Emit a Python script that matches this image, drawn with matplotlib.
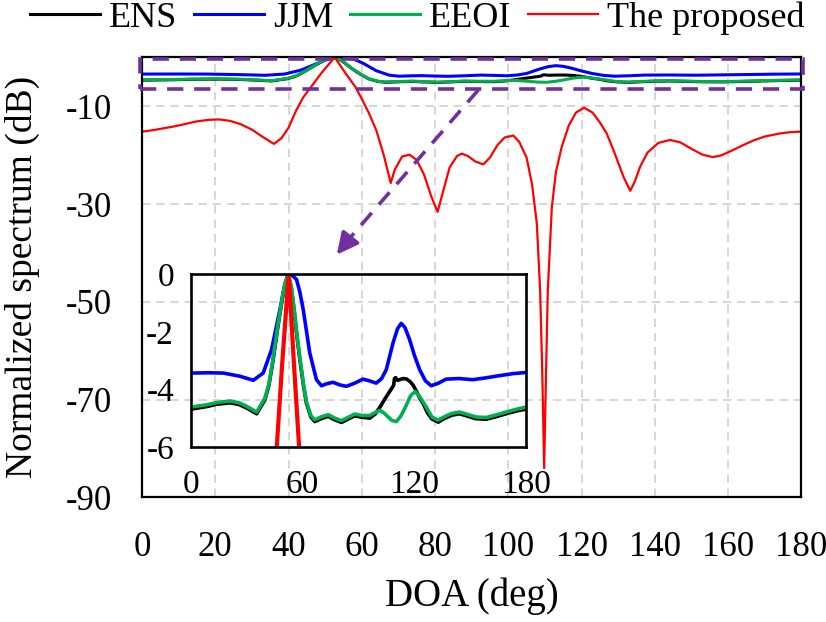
import matplotlib
matplotlib.use("Agg")
import matplotlib.pyplot as plt
from matplotlib.patches import Rectangle

plt.rcParams['font.family'] = ['Liberation Serif', 'DejaVu Serif']
plt.rcParams['axes.unicode_minus'] = False

# ---- data (DOA in deg, spectrum in dB) ----
red_x = [0, 3, 6, 9, 12, 15, 18, 21, 24, 27, 30, 33, 36, 38, 40, 42, 44, 46.2, 49, 52.6,
         55.5, 58.2, 60, 62, 64, 66, 67.9, 69, 71, 73, 75, 77, 79, 80.7, 82, 84, 86, 87.3, 89, 91,
         93.2, 95, 97, 99, 101.4, 103, 105, 106.5, 107.8, 108.7, 109.3, 109.8, 110.3, 110.8, 111.9,
         113, 114.6, 116.5, 118.5, 120.7, 123, 125, 126.9, 129, 131.5, 133.3, 134.5, 136, 138, 141,
         144.2, 147, 150, 153, 155.8, 158, 161, 164, 167, 170, 174, 177, 180]
red_y = [-15.2, -14.9, -14.5, -14.1, -13.6, -13.1, -12.8, -12.7, -13.0, -13.7, -14.8, -16.3, -17.7,
         -16.6, -14.4, -11.0, -8.2, -6.0, -3.2, 0, -3.2, -6.0, -8.5, -11.5, -15.0, -20.0, -25.7,
         -23.0, -20.3, -19.9, -21.0, -24.0, -28.5, -31.6, -28.0, -22.5, -20.2, -19.7, -20.2, -21.3,
         -21.9, -20.5, -18.0, -16.4, -16.0, -17.3, -20.5, -26.0, -34.0, -47.6, -65.0, -84.0, -65.0,
         -47.6, -30.6, -23.5, -18.3, -14.0, -11.3, -10.3, -11.3, -13.3, -15.6, -19.5, -24.5, -27.3,
         -25.5, -22.4, -19.5, -17.5, -16.9, -17.4, -18.7, -19.9, -20.4, -20.1, -19.1, -18.0, -17.0,
         -16.2, -15.6, -15.3, -15.2]

jjm_x = [0, 10, 17.5, 26.4, 33.6, 38.9, 43.4, 47.9, 50, 52, 53.5, 55, 56.8, 58.5, 60.4, 63.9,
         67.5, 70.2, 73, 76.4, 80, 83.6, 88, 92.5, 96, 99.6, 102.5, 105, 108.6, 111, 113, 115,
         117.5, 120, 122.9, 126, 129.1, 133, 137.1, 144, 151.4, 158, 165.7, 173, 180]
jjm_y = [-3.43, -3.42, -3.43, -3.54, -3.68, -3.43, -2.62, -1.23, -0.55, -0.08, 0, -0.08, -0.19,
         -0.6, -1.23, -2.73, -3.66, -3.87, -3.80, -3.75, -3.84, -3.89, -3.78, -3.64, -3.70, -3.78,
         -3.62, -3.31, -2.39, -1.9, -1.71, -1.85, -2.27, -2.8, -3.31, -3.7, -3.87, -3.78, -3.64,
         -3.62, -3.66, -3.6, -3.52, -3.45, -3.41]

ens_x = [0, 4, 8.6, 14, 21.1, 26, 30, 35.4, 39.8, 42, 44.3, 46.5, 48.8, 50.5, 52.3, 54, 55.5,
         57, 58.6, 60.5, 62.1, 64.5, 66.6, 70, 73.8, 77, 80.9, 84, 88, 92, 96.1, 99, 101.6, 104,
         106.5, 108.9, 109.4, 110, 111, 112.5, 114.1, 116, 118, 119.5, 121.5, 123, 124.9, 127,
         129.5, 132.9, 136, 140, 144.3, 149, 153, 158.6, 164, 169.3, 175, 180]
ens_y = [-4.68, -4.64, -4.59, -4.51, -4.46, -4.52, -4.64, -4.84, -4.36, -3.85, -2.95, -1.95,
         -1.0, -0.38, 0, -0.48, -1.25, -2.15, -2.97, -3.85, -4.47, -4.95, -5.11, -5.01, -4.93,
         -5.04, -5.14, -5.04, -4.91, -4.96, -4.99, -4.85, -4.61, -4.35, -4.1, -3.86, -3.62, -3.59,
         -3.68, -3.65, -3.62, -3.64, -3.74, -3.86, -4.1, -4.3, -4.5, -4.8, -5.02, -5.13, -5.01,
         -4.89, -4.84, -4.93, -5.01, -5.03, -4.94, -4.84, -4.74, -4.68]

eeoi_x = [0, 4, 8.6, 14, 21.1, 26, 30, 35.4, 39.8, 42, 44.3, 46.5, 48.8, 50.5, 52.3, 54, 55.5,
          57, 58.6, 60.5, 62.1, 64.5, 66.6, 70, 73.8, 77, 80.9, 84, 88, 92, 96.1, 99, 101.4,
          103.5, 106, 108, 110.4, 113, 115.7, 118, 120.5, 123, 126.4, 129.5, 132.7, 136, 140,
          144.3, 149, 153, 158.6, 164, 169.3, 175, 180]
eeoi_y = [-4.61, -4.57, -4.53, -4.45, -4.40, -4.46, -4.58, -4.78, -4.3, -3.8, -2.9, -1.9, -0.95,
          -0.35, 0, -0.45, -1.2, -2.1, -2.9, -3.8, -4.42, -4.9, -5.05, -4.95, -4.87, -4.98, -5.08,
          -4.98, -4.85, -4.9, -4.9, -4.8, -4.72, -4.8, -4.95, -5.07, -5.11, -4.9, -4.55, -4.22,
          -4.07, -4.25, -4.6, -4.95, -5.06, -4.95, -4.83, -4.78, -4.87, -4.95, -4.97, -4.88, -4.78,
          -4.68, -4.61]

main_xticks = [0, 20, 40, 60, 80, 100, 120, 140, 160, 180]
main_yticks = [-90, -70, -50, -30, -10]
inset_xticks = [0, 60, 120, 180]
inset_yticks = [-6, -4, -2, 0]

purple = '#7030A0'
green = '#00B050'

fig = plt.figure(figsize=(8.26, 6.22), dpi=100)
ax = fig.add_axes([0.172, 0.2002, 0.798, 0.7077])

ax.plot(ens_x, ens_y, color='black', lw=2.2, solid_joinstyle='round')
ax.plot(jjm_x, jjm_y, color='blue', lw=2.2, solid_joinstyle='round')
ax.plot(eeoi_x, eeoi_y, color=green, lw=2.2, solid_joinstyle='round')
ax.plot(red_x, red_y, color='red', lw=1.6, solid_joinstyle='round')

ax.set_xlim(0, 180)
ax.set_ylim(-90, 0)
ax.set_xticks(main_xticks)
ax.set_yticks(main_yticks)
ax.tick_params(length=0, labelsize=25)
ax.tick_params(axis='x', pad=24)
ax.tick_params(axis='y', pad=22)
ax.grid(True, color='#d0d0d0', ls=(0, (5, 3.5)), lw=1.2)
ax.set_axisbelow(True)
for s in ax.spines.values():
    s.set_linewidth(1.6)
ax.set_xlabel('DOA (deg)', fontsize=28, labelpad=10)
ax.set_ylabel('Normalized spectrum (dB)', fontsize=27, labelpad=18)

# zoom box and arrow
ax.add_patch(Rectangle((-0.5, -6.5), 181, 6.1, fill=False, ec=purple, lw=2.6,
                       ls=(0, (4.5, 3)), clip_on=False, zorder=5))
ax.plot([91.8, 56.0], [-6.7, -37.6], color=purple, lw=2.6, ls=(0, (4.5, 3)), zorder=5)
ax.annotate('', xy=(52.7, -40.8), xytext=(56.5, -37.2),
            arrowprops=dict(arrowstyle='-|>,head_length=1.3,head_width=0.65',
                            color=purple, lw=2.6), zorder=5)

# inset
axin = fig.add_axes([0.2309, 0.2809, 0.4059, 0.2786])
axin.patch.set_alpha(0)
axin.plot(ens_x, ens_y, color='black', lw=2.6, solid_joinstyle='round')
axin.plot(jjm_x, jjm_y, color='blue', lw=2.6, solid_joinstyle='round')
axin.plot(eeoi_x, eeoi_y, color=green, lw=2.6, solid_joinstyle='round')
axin.plot(red_x, red_y, color='red', lw=3)
axin.set_xlim(0, 180)
axin.set_ylim(-6, 0)
axin.set_xticks(inset_xticks)
axin.set_yticks(inset_yticks)
axin.tick_params(length=0, labelsize=24)
axin.tick_params(axis='x', pad=16)
axin.tick_params(axis='y', pad=12)
for s in axin.spines.values():
    s.set_linewidth(1.9)

fig.legend(['ENS', 'JJM', 'EEOI', 'The proposed'], loc='upper center',
           bbox_to_anchor=(0.505, 1.05), ncol=4, frameon=False, fontsize=26,
           handlelength=1.95, handletextpad=0.25, columnspacing=0.45)

fig.savefig('out.png', dpi=100)
